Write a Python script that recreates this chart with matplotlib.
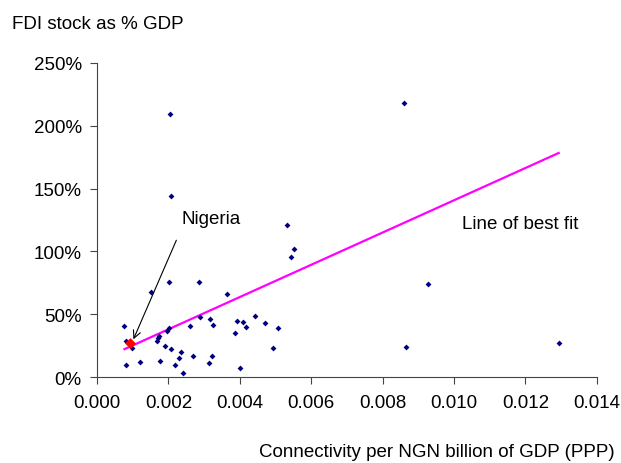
import matplotlib.pyplot as plt
from matplotlib.ticker import FuncFormatter

plt.rcParams['font.family'] = ['Liberation Sans', 'DejaVu Sans']

# connectivity per NGN billion of GDP (PPP) and FDI stock as share of GDP
conn = [0.00204, 0.00206, 0.00532, 0.00552, 0.00542, 0.00150, 0.00203, 0.00285,
        0.00363, 0.00077, 0.00288, 0.00316, 0.00326, 0.00261, 0.00201, 0.00197,
        0.00175, 0.00171, 0.00167, 0.00080, 0.00097, 0.00190, 0.00208, 0.00236,
        0.00229, 0.00218, 0.00241, 0.00270, 0.00080, 0.00120, 0.00176, 0.00315,
        0.00321, 0.00400, 0.00386, 0.00393, 0.00409, 0.00416, 0.00442, 0.00470,
        0.00507, 0.00493, 0.00860, 0.00926, 0.00865, 0.01293]
fdi = [2.09, 1.44, 1.21, 1.016, 0.955, 0.677, 0.76, 0.754,
       0.66, 0.41, 0.48, 0.46, 0.417, 0.41, 0.39, 0.367,
       0.328, 0.31, 0.29, 0.288, 0.23, 0.246, 0.225, 0.203,
       0.15, 0.10, 0.037, 0.167, 0.10, 0.12, 0.127, 0.11,
       0.17, 0.07, 0.354, 0.444, 0.439, 0.40, 0.484, 0.429,
       0.394, 0.233, 2.18, 0.738, 0.243, 0.27]

nigeria_x, nigeria_y = 0.00092, 0.272

# line of best fit: fdi = intercept + slope * conn
slope = 128.2
intercept = 0.125

fs = 13.5

fig = plt.figure(figsize=(6.21, 4.64), dpi=100)
ax = fig.add_axes([0.1562, 0.1847, 0.805, 0.678])

ax.scatter(conn, fdi, marker='D', s=9, color='#000080', zorder=3, linewidths=0)
ax.scatter([nigeria_x], [nigeria_y], marker='D', s=30, color='red', zorder=4, linewidths=0)

x0, x1 = min(conn), max(conn)
ax.plot([x0, x1], [intercept + slope * x0, intercept + slope * x1],
        color='#ff00ff', linewidth=1.6, zorder=2)

ax.annotate('Nigeria', xy=(nigeria_x + 0.0001, nigeria_y + 0.03), xytext=(0.00238, 1.26),
            fontsize=fs, ha='left', va='center',
            arrowprops=dict(arrowstyle='->', color='black', lw=0.8, shrinkA=8, shrinkB=0,
                            relpos=(0.0, 0.0)))
ax.text(0.01022, 1.22, 'Line of best fit', fontsize=fs, ha='left', va='center')

ax.set_xlim(0, 0.014)
ax.set_ylim(0, 2.5)
ax.set_xticks([0.000, 0.002, 0.004, 0.006, 0.008, 0.010, 0.012, 0.014])
ax.set_yticks([0, 0.5, 1.0, 1.5, 2.0, 2.5])
ax.xaxis.set_major_formatter(FuncFormatter(lambda v, p: f'{v:.3f}'))
ax.yaxis.set_major_formatter(FuncFormatter(lambda v, p: f'{v * 100:.0f}%'))
ax.tick_params(direction='out', length=5, width=0.8, labelsize=fs, color='#444444')
ax.tick_params(axis='y', pad=6)
ax.tick_params(axis='x', pad=7)

ax.spines['top'].set_visible(False)
ax.spines['right'].set_visible(False)
ax.spines['left'].set_color('#444444')
ax.spines['bottom'].set_color('#444444')

fig.text(0.02, 0.948, 'FDI stock as % GDP', fontsize=fs, ha='left', va='center')
fig.text(0.99, 0.024, 'Connectivity per NGN billion of GDP (PPP)', fontsize=fs,
         ha='right', va='center')

fig.savefig('out.png', dpi=100)
